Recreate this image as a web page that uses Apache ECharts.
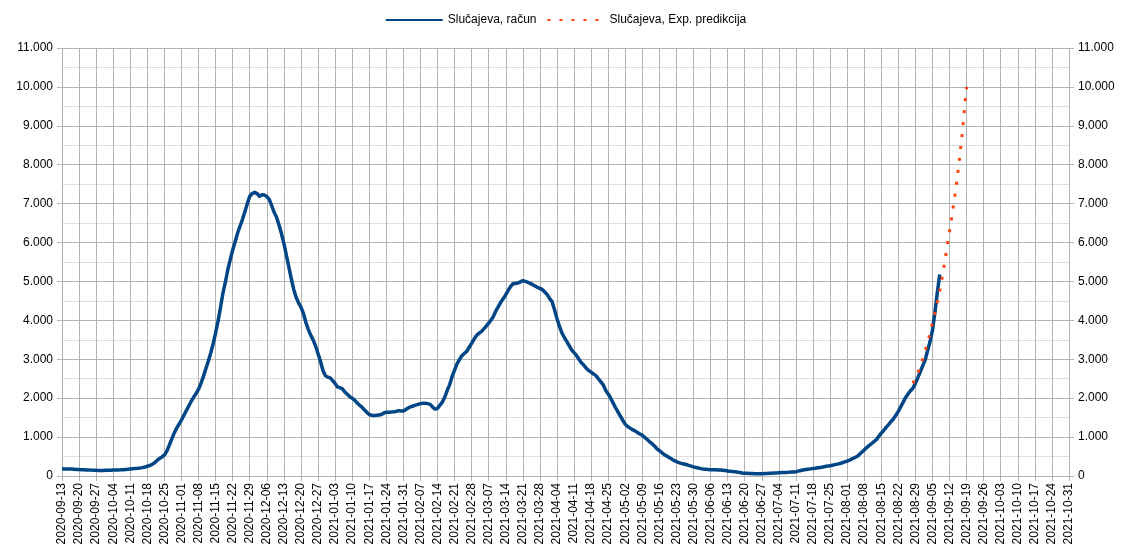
<!DOCTYPE html>
<html><head><meta charset="utf-8">
<script src="https://cdn.jsdelivr.net/npm/echarts@6/dist/echarts.min.js"></script>
<style>html,body{margin:0;padding:0;background:#fff}#c{width:1131px;height:560px}</style>
</head><body><div id="c"></div>
<script>
// ---- data ----
const axisStart = '2020-09-13';
const axisEnd = '2021-10-31';
const seriesNames = ['Slučajeva, račun', 'Slučajeva, Exp. predikcija'];
const actualStart = '2020-09-13';
const actualValues = [
  185,183,181,179,177,174,170,166,163,160,
  157,154,151,148,145,144,143,144,146,148,
  150,152,154,156,158,163,168,174,182,188,
  193,198,205,215,230,250,270,300,340,400,
  450,490,540,640,790,950,1100,1230,1330,1440,
  1560,1680,1800,1920,2030,2120,2230,2380,2560,2760,
  2950,3160,3400,3680,3980,4330,4700,4980,5300,5560,
  5810,6020,6240,6420,6590,6790,7000,7190,7260,7290,
  7260,7190,7230,7220,7180,7110,6950,6780,6650,6450,
  6230,5980,5680,5380,5080,4800,4600,4450,4340,4180,
  3950,3770,3620,3500,3340,3150,2950,2720,2580,2540,
  2520,2450,2380,2290,2270,2240,2160,2100,2040,2000,
  1950,1880,1820,1770,1700,1640,1580,1560,1555,1560,
  1570,1580,1620,1640,1640,1645,1650,1660,1680,1670,
  1670,1710,1750,1780,1800,1820,1840,1860,1870,1870,
  1860,1840,1770,1720,1740,1820,1900,2030,2200,2350,
  2560,2720,2880,2990,3090,3150,3200,3310,3410,3520,
  3610,3670,3710,3780,3850,3930,4010,4110,4250,4360,
  4470,4560,4660,4770,4870,4940,4950,4960,4990,5020,
  5000,4980,4950,4920,4880,4850,4825,4790,4730,4660,
  4560,4480,4270,4050,3850,3680,3560,3460,3350,3240,
  3170,3100,3000,2910,2850,2770,2710,2670,2620,2580,
  2500,2420,2340,2200,2110,2000,1880,1760,1650,1540,
  1430,1330,1270,1230,1190,1160,1120,1080,1050,990,
  940,880,830,770,700,650,600,550,515,475,
  440,400,370,345,325,310,295,275,255,235,
  220,205,190,180,175,168,163,160,158,156,
  155,150,140,130,125,115,108,100,90,78,
  70,68,65,62,60,60,60,60,62,65,
  68,70,75,80,85,88,90,92,95,100,
  105,110,125,140,155,165,175,183,190,200,
  210,220,230,242,255,265,278,292,305,320,
  340,362,385,410,440,470,500,550,610,670,
  730,780,830,885,935,1020,1100,1170,1250,1320,
  1400,1470,1560,1660,1780,1900,2020,2110,2190,2260,
  2380,2530,2680,2830,2980,3220,3450,3740,4200,4720,
  5180
];
const predStart = '2021-08-28';
const predValues = [
  2380,2510,2650,2820,3010,3210,3430,3660,3930,4200,
  4480,4770,5110,5480,5900,6290,6700,7120,7590,8110,
  8680,9330,10000
];
const yMax = 11000;
const yStep = 1000;

// ---- build categories (one per day) ----
function dayList(a, b) {
  const out = [];
  const d = new Date(a + 'T00:00:00Z');
  const e = new Date(b + 'T00:00:00Z');
  while (d <= e) { out.push(d.toISOString().slice(0, 10)); d.setUTCDate(d.getUTCDate() + 1); }
  return out;
}
const categories = dayList(axisStart, axisEnd);
function placed(start, vals) {
  const i0 = categories.indexOf(start);
  return vals.map((v, i) => [i0 + i, v]);
}
function fmt(v) {
  if (v < 1000) return String(v);
  const t = Math.floor(v / 1000), r = v % 1000;
  return t + '.' + String(r).padStart(3, '0');
}

const font = 'Liberation Sans, Arial, sans-serif';
const gridCol = '#b3b3b3';
const chart = echarts.init(document.getElementById('c'), null, { renderer: 'canvas' });
chart.setOption({
  animation: false,
  backgroundColor: '#fff',
  textStyle: { fontFamily: font },
  legend: {
    top: 9, left: 'center', itemWidth: 57, itemHeight: 14, itemGap: 10,
    itemStyle: { opacity: 0, borderWidth: 0 },
    textStyle: { fontSize: 12, color: '#000', fontFamily: font },
    data: seriesNames
  },
  grid: { left: 62, right: 62, top: 48, bottom: 84, containLabel: false },
  xAxis: {
    type: 'category', data: categories, boundaryGap: false,
    axisLine: { show: true, lineStyle: { color: gridCol, width: 1 } },
    axisTick: { show: true, interval: 6, length: 5, lineStyle: { color: gridCol } },
    axisLabel: { interval: 6, rotate: 90, fontSize: 12, color: '#000', margin: 7, fontFamily: font },
    splitLine: { show: true, interval: 6, lineStyle: { color: gridCol, width: 1 } }
  },
  yAxis: [
    {
      type: 'value', min: 0, max: yMax, interval: yStep, position: 'left',
      axisLine: { show: true, lineStyle: { color: gridCol } },
      axisTick: { show: true, length: 5, lineStyle: { color: gridCol } },
      axisLabel: { formatter: fmt, fontSize: 12, color: '#000', margin: 9, fontFamily: font },
      splitLine: { show: true, lineStyle: { color: gridCol, width: 1 } },
      minorTick: { show: false, splitNumber: 2 },
      minorSplitLine: { show: true, lineStyle: { color: '#dddddd', width: 1 } }
    },
    {
      type: 'value', min: 0, max: yMax, interval: yStep, position: 'right',
      axisLine: { show: true, lineStyle: { color: gridCol } },
      axisTick: { show: true, length: 5, lineStyle: { color: gridCol } },
      axisLabel: { formatter: fmt, fontSize: 12, color: '#000', margin: 9, fontFamily: font },
      splitLine: { show: false }
    }
  ],
  series: [
    {
      name: seriesNames[0], type: 'line', data: placed(actualStart, actualValues),
      showSymbol: false, symbol: 'none', smooth: false,
      lineStyle: { color: '#004586', width: 3.5, join: 'round' },
      itemStyle: { color: '#004586' }, z: 3
    },
    {
      name: seriesNames[1], type: 'line', data: placed(predStart, predValues),
      showSymbol: false, symbol: 'none', smooth: false,
      lineStyle: { color: '#ff420e', width: 3, type: [3, 9], cap: 'butt' },
      itemStyle: { color: '#ff420e' }, z: 4
    }
  ]
});
</script></body></html>
